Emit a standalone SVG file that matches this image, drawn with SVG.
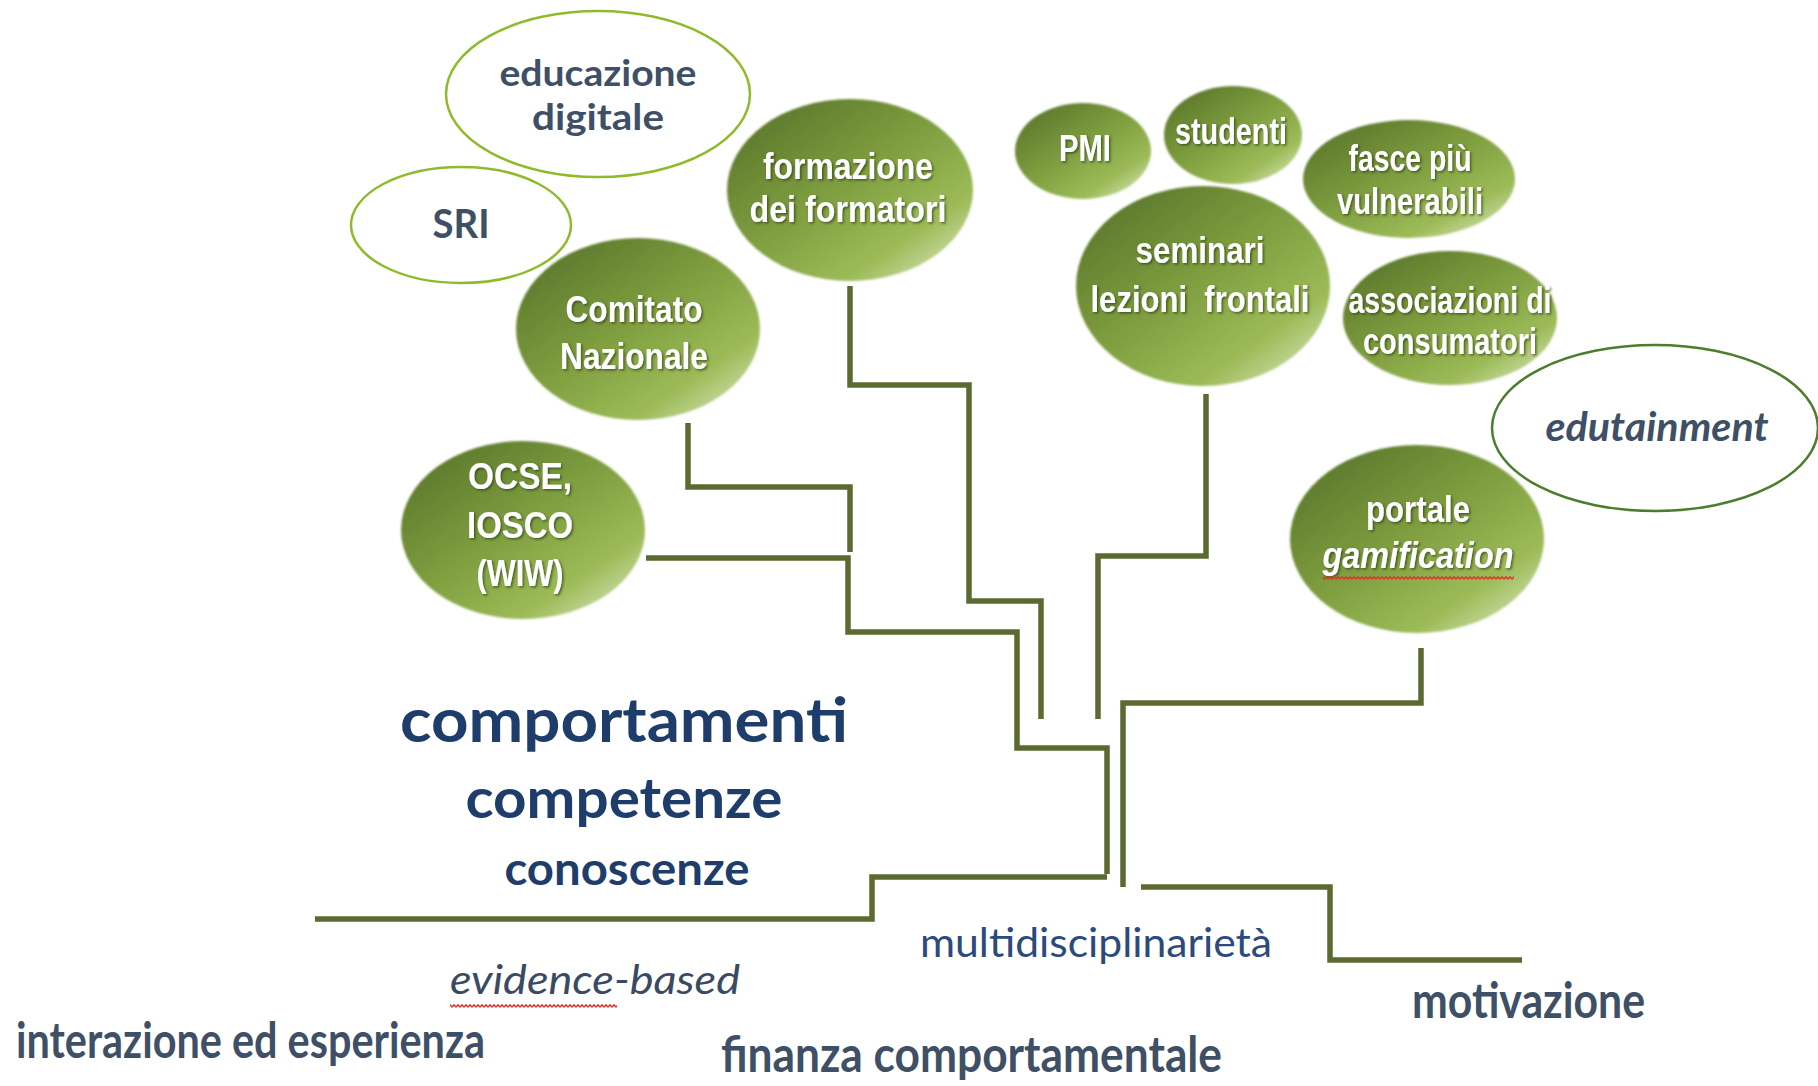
<svg xmlns="http://www.w3.org/2000/svg" width="1818" height="1086" viewBox="0 0 1818 1086">
  <defs>
    <linearGradient id="bubble" x1="0.12" y1="0.08" x2="0.92" y2="0.95">
      <stop offset="0" stop-color="#5c782c"/>
      <stop offset="0.45" stop-color="#7f9f40"/>
      <stop offset="0.78" stop-color="#9cbb58"/>
      <stop offset="1" stop-color="#d4e3b4"/>
    </linearGradient>
    <filter id="soft" x="-5%" y="-5%" width="110%" height="110%">
      <feGaussianBlur stdDeviation="1.2"/>
    </filter>
    <filter id="shadow" x="-10%" y="-30%" width="120%" height="160%">
      <feDropShadow dx="1.5" dy="1.5" stdDeviation="1" flood-color="#2a3a10" flood-opacity="0.7"/>
    </filter>
    <pattern id="wave" width="4" height="4" patternUnits="userSpaceOnUse">
      <path d="M0,3.2 L2,0.8 L4,3.2" fill="none" stroke="#d9362c" stroke-width="1.4"/>
    </pattern>
    <style>
      .bub { fill: url(#bubble); filter: url(#soft); }
      .ring-light { fill: none; stroke: #8fba2c; stroke-width: 2.5; }
      .ring-dark { fill: none; stroke: #4b7d2a; stroke-width: 2.5; }
      .wt { font-family: "Liberation Sans Narrow", "Liberation Sans", Arial, sans-serif; font-weight: bold; font-size: 36px; fill: #ffffff; text-anchor: middle; filter: url(#shadow); white-space: pre; }
      .slate { font-family: Lato, "Open Sans", sans-serif; font-weight: bold; fill: #3e4f66; }
      .navy { font-family: Lato, "Open Sans", sans-serif; font-weight: bold; fill: #1f3d6b; text-anchor: middle; }
      .line { fill: none; stroke: #5b6a30; stroke-width: 5.5; stroke-linejoin: miter; stroke-linecap: butt; }
    </style>
  </defs>

  <rect width="1818" height="1086" fill="#ffffff"/>

  <!-- stepped connectors -->
  <g id="connectors" class="line">
    <path d="M850,286 V385 H969 V601 H1041 V719"/>
    <path d="M688,423 V487 H850 V552"/>
    <path d="M646,558 H848 V632 H1017 V748 H1107 V874"/>
    <path d="M1206,394 V556 H1098 V719"/>
    <path d="M1421,648 V703 H1123 V887"/>
    <path d="M315,919 H872 V877 H1107"/>
    <path d="M1141,887 H1330 V960 H1522"/>
  </g>

  <!-- outlined labels -->
  <g id="educazione-digitale">
    <ellipse class="ring-light" cx="598" cy="94" rx="152" ry="83"/>
    <text class="slate" font-size="36" text-anchor="middle" x="598" y="86" textLength="197" lengthAdjust="spacingAndGlyphs">educazione</text>
    <text class="slate" font-size="36" text-anchor="middle" x="598" y="130" textLength="132" lengthAdjust="spacingAndGlyphs">digitale</text>
  </g>

  <g id="sri">
    <ellipse class="ring-light" cx="461" cy="225" rx="110" ry="58"/>
    <text class="slate" font-size="41" text-anchor="middle" x="461" y="238" textLength="57" lengthAdjust="spacingAndGlyphs">SRI</text>
  </g>

  <g id="edutainment">
    <ellipse class="ring-dark" cx="1655" cy="428" rx="163" ry="83"/>
    <text class="slate" font-size="41" font-style="italic" text-anchor="middle" x="1657" y="441" textLength="223" lengthAdjust="spacingAndGlyphs">edutainment</text>
  </g>

  <!-- green bubbles -->
  <g id="formazione-formatori">
    <ellipse class="bub" cx="850" cy="190" rx="123" ry="91"/>
    <text class="wt" x="848" y="179" textLength="170" lengthAdjust="spacingAndGlyphs">formazione</text>
    <text class="wt" x="848" y="222" textLength="197" lengthAdjust="spacingAndGlyphs">dei formatori</text>
  </g>

  <g id="comitato-nazionale">
    <ellipse class="bub" cx="638" cy="329" rx="122" ry="91"/>
    <text class="wt" x="634" y="322" textLength="137" lengthAdjust="spacingAndGlyphs">Comitato</text>
    <text class="wt" x="634" y="369" textLength="148" lengthAdjust="spacingAndGlyphs">Nazionale</text>
  </g>

  <g id="ocse-iosco">
    <ellipse class="bub" cx="523" cy="530" rx="122" ry="89"/>
    <text class="wt" x="520" y="489" textLength="104" lengthAdjust="spacingAndGlyphs">OCSE,</text>
    <text class="wt" x="520" y="538" textLength="106" lengthAdjust="spacingAndGlyphs">IOSCO</text>
    <text class="wt" x="520" y="586" textLength="87" lengthAdjust="spacingAndGlyphs">(WIW)</text>
  </g>

  <g id="pmi">
    <ellipse class="bub" cx="1083" cy="151" rx="68" ry="48"/>
    <text class="wt" x="1085" y="161" textLength="52" lengthAdjust="spacingAndGlyphs">PMI</text>
  </g>

  <g id="studenti">
    <ellipse class="bub" cx="1233" cy="135" rx="69" ry="49"/>
    <text class="wt" x="1231" y="144" textLength="112" lengthAdjust="spacingAndGlyphs">studenti</text>
  </g>

  <g id="fasce-vulnerabili">
    <ellipse class="bub" cx="1409" cy="179" rx="106" ry="59"/>
    <text class="wt" x="1410" y="171" textLength="123" lengthAdjust="spacingAndGlyphs">fasce più</text>
    <text class="wt" x="1410" y="214" textLength="146" lengthAdjust="spacingAndGlyphs">vulnerabili</text>
  </g>

  <g id="seminari">
    <ellipse class="bub" cx="1203" cy="286" rx="127" ry="100"/>
    <text class="wt" x="1200" y="263" textLength="129" lengthAdjust="spacingAndGlyphs">seminari</text>
    <text class="wt" x="1200" y="312" textLength="219" lengthAdjust="spacingAndGlyphs">lezioni  frontali</text>
  </g>

  <g id="associazioni-consumatori">
    <ellipse class="bub" cx="1450" cy="318" rx="107" ry="67"/>
    <text class="wt" x="1450" y="313" textLength="203" lengthAdjust="spacingAndGlyphs">associazioni di</text>
    <text class="wt" x="1450" y="354" textLength="174" lengthAdjust="spacingAndGlyphs">consumatori</text>
  </g>

  <g id="portale-gamification">
    <ellipse class="bub" cx="1417" cy="539" rx="127" ry="94"/>
    <text class="wt" x="1418" y="522" textLength="104" lengthAdjust="spacingAndGlyphs">portale</text>
    <text class="wt" x="1418" y="568" font-style="italic" textLength="191" lengthAdjust="spacingAndGlyphs">gamification</text>
    <rect x="1323" y="576" width="191" height="4" fill="url(#wave)"/>
  </g>

  <!-- central stack of levels -->
  <g id="livelli">
    <text class="navy" font-size="62" x="624" y="742" textLength="448" lengthAdjust="spacingAndGlyphs">comportamenti</text>
    <text class="navy" font-size="56" x="624" y="818" textLength="317" lengthAdjust="spacingAndGlyphs">competenze</text>
    <text class="navy" font-size="45" x="627" y="885" textLength="245" lengthAdjust="spacingAndGlyphs">conoscenze</text>
  </g>

  <!-- captions along the ground lines -->
  <g id="multidisciplinarieta">
    <text font-family="Lato, 'Open Sans', sans-serif" font-size="41" fill="#2c4a7c" x="920" y="957" textLength="352" lengthAdjust="spacingAndGlyphs">multidisciplinarietà</text>
  </g>

  <g id="evidence-based">
    <text font-family="Lato, 'Open Sans', sans-serif" font-size="41" font-style="italic" fill="#3a4a62" x="450" y="994" textLength="290" lengthAdjust="spacingAndGlyphs">evidence-based</text>
    <rect x="450" y="1004" width="167" height="4" fill="url(#wave)"/>
  </g>

  <g id="interazione-esperienza">
    <text class="slate" font-size="49" x="16" y="1058" textLength="469" lengthAdjust="spacingAndGlyphs">interazione ed esperienza</text>
  </g>

  <g id="finanza-comportamentale">
    <text class="slate" font-size="50" x="721" y="1072" textLength="501" lengthAdjust="spacingAndGlyphs">finanza comportamentale</text>
  </g>

  <g id="motivazione">
    <text class="slate" font-size="49" x="1412" y="1018" textLength="233" lengthAdjust="spacingAndGlyphs">motivazione</text>
  </g>
</svg>
